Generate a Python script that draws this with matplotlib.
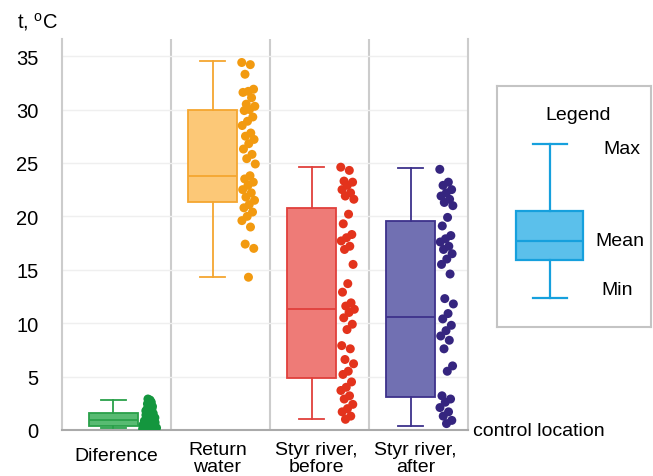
import numpy as np
import matplotlib
matplotlib.use("Agg")
import matplotlib.pyplot as plt

plt.rcParams['font.family'] = ['Liberation Sans', 'DejaVu Sans']
plt.rcParams['mathtext.default'] = 'regular'

# categories and box statistics (min, q1, median, q3, max)
categories = ['Diference', 'Return\nwater', 'Styr river,\nbefore', 'Styr river,\nafter']
box_min = [0.15, 14.3, 1.0, 0.4]
box_q1 = [0.4, 21.3, 4.9, 3.1]
box_med = [0.95, 23.8, 11.3, 10.6]
box_q3 = [1.55, 30.0, 20.8, 19.6]
box_max = [2.85, 34.5, 24.6, 24.5]

# individual measurements
diff_pts = [2.9, 2.8, 2.7, 2.6, 2.5, 2.45, 2.35, 2.25, 2.2, 2.1, 2.0, 1.95, 1.85, 1.8,
            1.7, 1.6, 1.55, 1.45, 1.4, 1.3, 1.25, 1.15, 1.1, 1.0, 0.95, 0.9, 0.85, 0.8,
            0.75, 0.7, 0.65, 0.6, 0.55, 0.5, 0.45, 0.4, 0.4, 0.35, 0.3, 0.3, 0.25, 0.2,
            0.2, 0.15, 0.15, 0.1, 0.1, 0.1]
return_pts = [34.4, 34.2, 33.3, 31.9, 31.7, 31.6, 31.1, 30.5, 30.3, 30.0, 29.9, 29.3,
              28.9, 28.5, 27.8, 27.5, 27.2, 26.8, 26.3, 25.8, 25.4, 24.9, 23.8, 23.5,
              23.2, 22.9, 22.5, 22.2, 21.8, 21.5, 21.1, 20.8, 20.4, 20.0, 19.6, 19.0,
              17.4, 17.0, 14.3]
before_pts = [24.6, 24.3, 23.3, 23.2, 22.9, 22.5, 22.2, 21.9, 21.6, 20.2, 19.3, 18.3,
              18.0, 17.7, 17.2, 16.9, 15.5, 13.7, 12.9, 11.9, 11.6, 11.3, 11.0, 10.5,
              9.9, 9.4, 7.9, 7.6, 6.6, 6.2, 5.5, 5.2, 4.5, 4.0, 3.7, 3.2, 2.9, 2.4,
              2.0, 1.7, 1.3, 1.0]
after_pts = [24.4, 23.2, 22.9, 22.5, 22.2, 21.9, 21.6, 21.3, 21.0, 19.9, 19.1, 18.2,
             17.9, 17.6, 17.2, 16.9, 16.5, 16.0, 15.5, 14.6, 12.3, 11.8, 10.9, 10.4,
             9.8, 9.3, 8.8, 8.4, 7.6, 6.0, 5.5, 3.2, 2.9, 2.6, 2.1, 1.7, 1.3, 0.9, 0.6]
points = [diff_pts, return_pts, before_pts, after_pts]

# legend schematic (min, q1, median, q3, max) in legend-panel units
legend_stats = [0.12, 0.278, 0.356, 0.481, 0.758]

dot_colors = ['#14963e', '#f29a10', '#e3331c', '#35257f']
box_fills = ['#58bb72', '#fcc877', '#ee7b77', '#7170b2']
box_edges = ['#2aa04a', '#f5a630', '#e0403c', '#3d318b']

fig = plt.figure(figsize=(6.53, 4.77), dpi=100)
ax = fig.add_axes([62 / 653, 1 - 431 / 477, (468 - 62) / 653, (431 - 40) / 477])

box_pos = [-0.08, 0.92, 1.92, 2.92]
for i in range(len(categories)):
    st = [dict(whislo=box_min[i], q1=box_q1[i], med=box_med[i], q3=box_q3[i],
               whishi=box_max[i], fliers=[])]
    ax.bxp(st, positions=[box_pos[i]], widths=0.5, patch_artist=True, showfliers=False,
           boxprops=dict(facecolor=box_fills[i], edgecolor=box_edges[i], linewidth=1.3),
           whiskerprops=dict(color=box_edges[i], linewidth=1.3),
           capprops=dict(color=box_edges[i], linewidth=1.3),
           medianprops=dict(color=box_edges[i], linewidth=1.3))
    vals = np.array(points[i])
    n = len(vals)
    # deterministic jitter
    jit = ((np.arange(n) * 0.618034) % 1.0 - 0.5) * 0.14
    if i == 0:
        jit = jit * (1.15 - vals / 3.2)
    ax.scatter(i + 0.285 + jit, vals, s=42, color=dot_colors[i], edgecolors='none', zorder=3)

ax.set_xlim(-0.60, 3.5)
ax.set_ylim(0, 36.6)
ax.set_yticks(range(0, 36, 5))
ax.tick_params(axis='y', length=0, pad=17, labelsize=14.5)
ax.set_xticks([])
ax.yaxis.grid(True, color='#efefef', linewidth=1)
ax.set_axisbelow(True)
for x in [0.5, 1.5, 2.5]:
    ax.axvline(x, color='#cccccc', linewidth=1.5, zorder=0)
ax.spines['top'].set_visible(False)
for s in ['left', 'right']:
    ax.spines[s].set_color('#cccccc')
    ax.spines[s].set_linewidth(1.5)
ax.spines['bottom'].set_color('#aaaaaa')
ax.spines['bottom'].set_linewidth(1.5)

for i, lab in enumerate(categories):
    if '\n' in lab:
        ax.text(i - 0.03, -1.0, lab, ha='center', va='top', fontsize=14,
                linespacing=1.05, clip_on=False)
    else:
        ax.text(i - 0.05, -2.35, lab, ha='center', va='center', fontsize=14,
                clip_on=False)
ax.text(3.55, -0.05, 'control location', ha='left', va='center', fontsize=14,
        clip_on=False)
fig.text(17 / 653, 1 - 22 / 477, 't, $^{o}$C', ha='left', va='center', fontsize=14.5)

# legend panel
lax = fig.add_axes([497 / 653, 1 - 328 / 477, 154 / 653, (328 - 87) / 477])
lst = [dict(whislo=legend_stats[0], q1=legend_stats[1], med=legend_stats[2],
            q3=legend_stats[3], whishi=legend_stats[4], fliers=[])]
lax.bxp(lst, positions=[0.344], widths=0.435, patch_artist=True, showfliers=False,
        boxprops=dict(facecolor='#5bc0eb', edgecolor='#16a0dd', linewidth=1.6),
        whiskerprops=dict(color='#16a0dd', linewidth=1.6),
        capprops=dict(color='#16a0dd', linewidth=1.6),
        medianprops=dict(color='#16a0dd', linewidth=1.6))
lax.set_xlim(0, 1)
lax.set_ylim(0, 1)
lax.set_xticks([])
lax.set_yticks([])
for s in lax.spines.values():
    s.set_color('#c4c4c4')
    s.set_linewidth(1.5)
lax.text(0.526, 0.882, 'Legend', ha='center', va='center', fontsize=14)
lax.text(0.81, 0.742, 'Max', ha='center', va='center', fontsize=14)
lax.text(0.80, 0.36, 'Mean', ha='center', va='center', fontsize=14)
lax.text(0.78, 0.157, 'Min', ha='center', va='center', fontsize=14)

fig.savefig('out.png', dpi=100)
